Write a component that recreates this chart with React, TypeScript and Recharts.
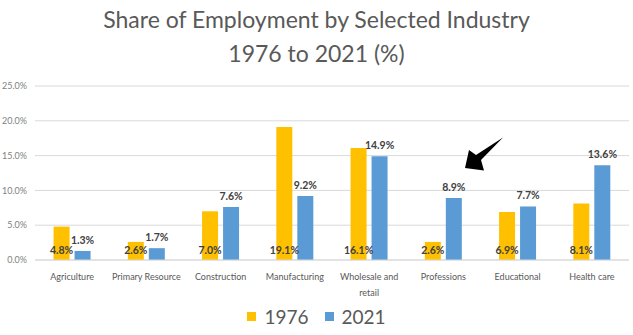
import React from "react";
import { BarChart, Bar, XAxis, YAxis, CartesianGrid, LabelList, Customized } from "recharts";

const categories = ["Agriculture", "Primary Resource", "Construction", "Manufacturing", "Wholesale and retail", "Professions", "Educational", "Health care"];
const share1976 = [4.8, 2.6, 7.0, 19.1, 16.1, 2.6, 6.9, 8.1];
const share2021 = [1.3, 1.7, 7.6, 9.2, 14.9, 8.9, 7.7, 13.6];
const yTicks = [0, 5, 10, 15, 20, 25];
const seriesNames = ["1976", "2021"];
const titleLines = ["Share of Employment by Selected Industry", "1976 to 2021 (%)"];

const data = categories.map((c, i) => ({ name: c, y1976: share1976[i], y2021: share2021[i] }));

const FONT = "Lato, 'Open Sans', sans-serif";
const C1976 = "#FFC000";
const C2021 = "#5B9BD5";

const CategoryTick = (props: any) => {
  const { x, y, payload } = props;
  const words = String(payload.value).split(" ");
  const lines = words.length > 2 ? [words.slice(0, 2).join(" "), words.slice(2).join(" ")] : [words.join(" ")];
  return (
    <text x={x} y={y} textAnchor="middle" fontSize={9} fontFamily={FONT} fill="#595959">
      {lines.map((l, i) => (
        <tspan key={i} x={x} dy={i === 0 ? 12 : 16}>{l}</tspan>
      ))}
    </text>
  );
};

const Arrow = () => (
  <polygon points="503,137.5 481,160 484,170.5 465,168 469,150 476,155" fill="#000" />
);

const fmt = (v: any) => `${Number(v).toFixed(1)}%`;

export default function App() {
  return (
    <div style={{ position: "absolute", left: 0, top: 0, width: 633, height: 335, background: "#fff", fontFamily: FONT }}>
      <div style={{ position: "absolute", left: 0, top: 2, width: 633, textAlign: "center", color: "#595959", fontSize: 23, lineHeight: "34px" }}>
        <div>{titleLines[0]}</div>
        <div>{titleLines[1]}</div>
      </div>
      <BarChart
        width={633}
        height={335}
        data={data}
        margin={{ top: 86, right: 4, bottom: 0, left: 0 }}
        barCategoryGap="25%"
        barGap={5}
      >
        <CartesianGrid vertical={false} stroke="#d9d9d9" />
        <XAxis dataKey="name" height={75} tickLine={false} axisLine={{ stroke: "#d9d9d9" }} interval={0} tick={<CategoryTick />} />
        <YAxis domain={[0, 25]} ticks={yTicks} width={35} tickFormatter={fmt} axisLine={false} tickLine={false} tick={{ fontSize: 9, fill: "#7f7f7f", fontFamily: FONT }} />
        <Bar dataKey="y1976" fill={C1976} isAnimationActive={false}>
          <LabelList dataKey="y1976" position="insideBottom" offset={6} formatter={fmt} style={{ fontSize: 10.5, fontWeight: 700, fill: "#404040", fontFamily: FONT }} />
        </Bar>
        <Bar dataKey="y2021" fill={C2021} isAnimationActive={false}>
          <LabelList dataKey="y2021" position="top" offset={7} formatter={fmt} style={{ fontSize: 10.5, fontWeight: 700, fill: "#404040", fontFamily: FONT }} />
        </Bar>
        <Customized component={Arrow} />
      </BarChart>
      <div style={{ position: "absolute", left: 0, top: 305, width: 633, display: "flex", justifyContent: "center", alignItems: "center", color: "#595959", fontSize: 19 }}>
        <span style={{ display: "inline-block", width: 9, height: 9, background: C1976, marginRight: 8 }} />
        <span style={{ marginRight: 16 }}>{seriesNames[0]}</span>
        <span style={{ display: "inline-block", width: 9, height: 9, background: C2021, marginRight: 8 }} />
        <span>{seriesNames[1]}</span>
      </div>
    </div>
  );
}
